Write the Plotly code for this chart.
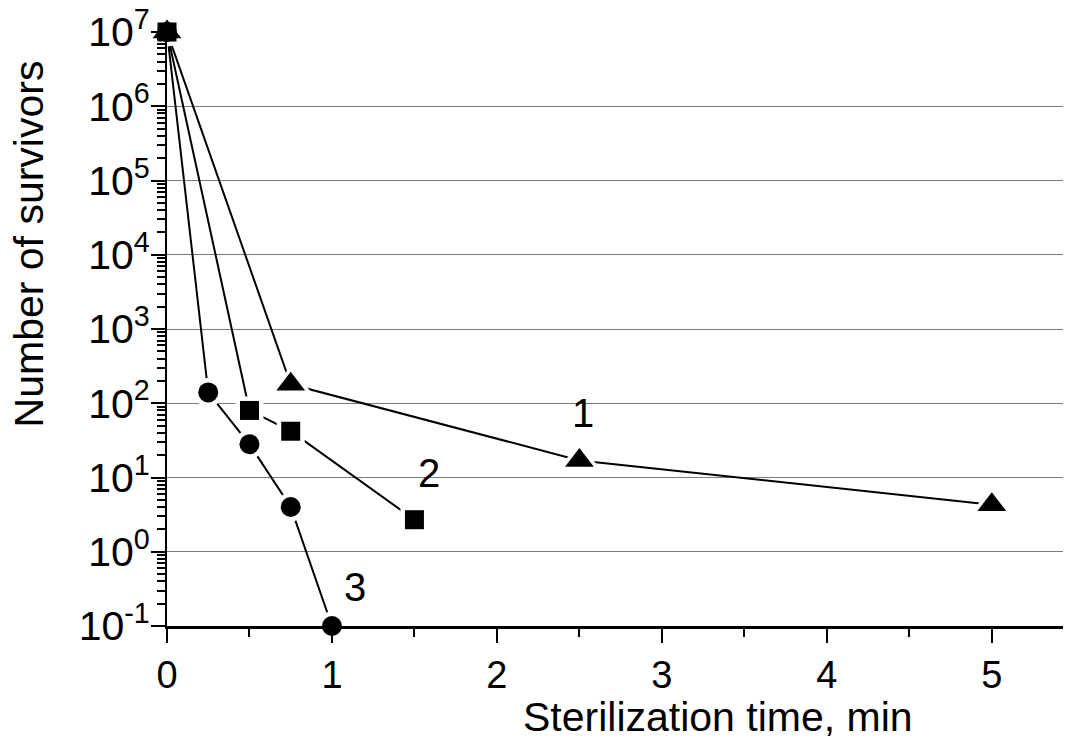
import math
import plotly.graph_objects as go

# Data
t1 = [0, 0.75, 2.5, 5]
n1 = [1e7, 180, 17, 4.3]
t2 = [0, 0.5, 0.75, 1.5]
n2 = [1e7, 80, 42, 2.7]
t3 = [0, 0.25, 0.5, 0.75, 1.0]
n3 = [1e7, 140, 28, 4.0, 0.1]

curve_labels = ["1", "2", "3"]
label_x = [2.52, 1.59, 1.14]
label_y = [74, 11.5, 0.335]

x_ticks = [0, 1, 2, 3, 4, 5]
y_tickvals = [1e-1, 1e0, 1e1, 1e2, 1e3, 1e4, 1e5, 1e6, 1e7]
y_ticktext = ["10<sup>-1</sup>", "10<sup>0</sup>", "10<sup>1</sup>", "10<sup>2</sup>",
              "10<sup>3</sup>", "10<sup>4</sup>", "10<sup>5</sup>", "10<sup>6</sup>",
              "10<sup>7</sup>"]

x_title = "Sterilization time, min"
y_title = "Number of survivors"

FONT = "Arial, Liberation Sans, Helvetica, sans-serif"

series = [
    (t1, n1, "triangle-up", 25, 37),
    (t2, n2, "square", 19, 28),
    (t3, n3, "circle", 20, 29),
]

fig = go.Figure()
# connecting lines
for t, n, sym, s, hs in series:
    fig.add_trace(go.Scatter(x=t, y=n, mode="lines",
                             line=dict(color="black", width=2),
                             showlegend=False, cliponaxis=False, hoverinfo="skip"))
# white halos so lines stop short of the markers
for t, n, sym, s, hs in series:
    fig.add_trace(go.Scatter(x=t, y=n, mode="markers",
                             marker=dict(symbol=sym, size=hs, color="white", line=dict(width=0)),
                             showlegend=False, cliponaxis=False, hoverinfo="skip"))
# black markers
for t, n, sym, s, hs in series:
    fig.add_trace(go.Scatter(x=t, y=n, mode="markers",
                             marker=dict(symbol=sym, size=s, color="black", line=dict(width=0)),
                             showlegend=False, cliponaxis=False))

for txt, lx, ly in zip(curve_labels, label_x, label_y):
    fig.add_annotation(x=lx, y=math.log10(ly), xref="x", yref="y", text=txt,
                       showarrow=False, font=dict(family=FONT, size=40, color="black"))

fig.add_annotation(x=0.6095, y=-0.153, xref="paper", yref="paper", text=x_title,
                   showarrow=False, xanchor="center", yanchor="middle",
                   font=dict(family=FONT, size=41, color="black"))
fig.add_annotation(x=-0.1516, y=0.644, xref="paper", yref="paper", text=y_title,
                   showarrow=False, xanchor="center", yanchor="middle", textangle=-90,
                   font=dict(family=FONT, size=41, color="black"))

fig.update_layout(
    width=1063, height=737,
    margin=dict(l=159, r=0, t=24, b=119, autoexpand=False),
    paper_bgcolor="white", plot_bgcolor="white",
    showlegend=False,
    xaxis=dict(range=[0, 5.48], tickvals=x_ticks, ticks="outside", ticklen=14, tickwidth=2,
               tickcolor="black", showline=True, linewidth=2.5, linecolor="black",
               showgrid=False, zeroline=False, layer="above traces", automargin=False,
               tickfont=dict(family=FONT, size=38, color="black"),
               minor=dict(dtick=0.5, ticks="outside", ticklen=8, tickwidth=2,
                          tickcolor="black", showgrid=False)),
    yaxis=dict(type="log", range=[-1, 7], tickvals=y_tickvals, ticktext=y_ticktext,
               ticks="outside", ticklen=14, tickwidth=2, tickcolor="black",
               showline=True, linewidth=2, linecolor="black",
               showgrid=True, gridcolor="#7a7a7a", gridwidth=1, zeroline=False,
               layer="above traces", automargin=False, ticklabeloverflow="allow",
               ticklabelstandoff=-7,
               tickfont=dict(family=FONT, size=41, color="black"),
               minor=dict(dtick="D1", ticks="outside", ticklen=8, tickwidth=1.5,
                          tickcolor="black", showgrid=False)),
)

fig.write_html("out.html")
